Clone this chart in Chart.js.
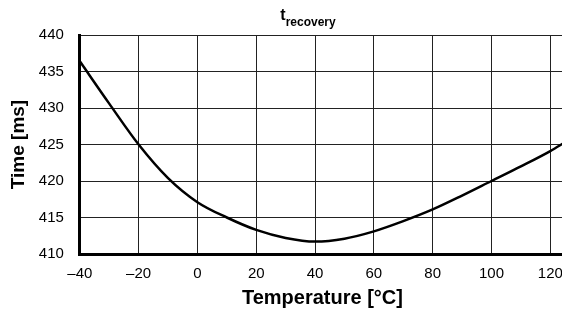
<!DOCTYPE html>
<html>
<head>
<meta charset="utf-8">
<script src="https://cdn.jsdelivr.net/npm/chart.js@4/dist/chart.umd.min.js"></script>
<style>
  html, body { margin: 0; padding: 0; background: #fff; overflow: hidden; }
  #chart { display: block; }
</style>
</head>
<body>
<canvas id="chart" width="566" height="314"></canvas>
<script>
// values
const temps = [-40, -30, -20, -10, 0, 10, 20, 30, 40, 50, 60, 70, 80, 90, 100, 110, 120, 125];
const times = [436.4, 430.6, 425.0, 420.4, 417.1, 415.0, 413.3, 412.2, 411.7, 412.1, 413.1, 414.5, 416.1, 418.0, 420.0, 422.0, 424.1, 425.3];
const xTicks = [-40, -20, 0, 20, 40, 60, 80, 100, 120];

const FONT = "'Liberation Sans', Arial, Helvetica, sans-serif";

// title with subscript: t_recovery
const subTitle = {
  id: "subTitle",
  afterDraw(chart) {
    const ctx = chart.ctx;
    ctx.save();
    ctx.fillStyle = "#000";
    ctx.textBaseline = "alphabetic";
    ctx.font = "bold 16px " + FONT;
    const wT = ctx.measureText("t").width;
    ctx.font = "bold 12px " + FONT;
    const wR = ctx.measureText("recovery").width;
    const x0 = 308 - (wT + wR) / 2;
    ctx.font = "bold 16px " + FONT;
    ctx.fillText("t", x0, 20);
    ctx.font = "bold 12px " + FONT;
    ctx.fillText("recovery", x0 + wT, 26);
    ctx.restore();
  }
};

new Chart(document.getElementById("chart").getContext("2d"), {
  type: "line",
  data: {
    datasets: [{
      data: temps.map((t, i) => ({ x: t, y: times[i] })),
      borderColor: "#000",
      borderWidth: 2.5,
      pointRadius: 0,
      cubicInterpolationMode: "monotone",
      fill: false
    }]
  },
  options: {
    responsive: false,
    animation: false,
    layout: { padding: { top: 35, right: 1, left: 7, bottom: 4 } },
    plugins: { legend: { display: false }, tooltip: { enabled: false } },
    scales: {
      x: {
        type: "linear",
        min: -40, max: 125,
        afterBuildTicks: s => { s.ticks = xTicks.map(v => ({ value: v })); },
        afterFit: s => { s.paddingRight = 0; },
        grid: { color: "#222", lineWidth: 1, drawTicks: false },
        border: { color: "#000", width: 3 },
        ticks: {
          autoSkip: false,
          maxRotation: 0,
          padding: 11,
          color: "#000",
          font: { family: FONT, size: 15 },
          callback: v => String(v).replace("-", "\u2013")
        },
        title: {
          display: true,
          text: "Temperature [°C]",
          color: "#000",
          font: { family: FONT, size: 20, weight: "bold" },
          padding: { top: -8, bottom: 0 }
        }
      },
      y: {
        min: 410, max: 440,
        grid: { color: "#222", lineWidth: 1, drawTicks: false },
        border: { color: "#000", width: 3 },
        ticks: {
          stepSize: 5,
          padding: 16,
          color: "#000",
          font: { family: FONT, size: 15 }
        },
        title: {
          display: true,
          text: "Time [ms]",
          color: "#000",
          font: { family: FONT, size: 19, weight: "bold" },
          padding: { top: 0, bottom: -7 }
        }
      }
    }
  },
  plugins: [subTitle]
});
</script>
</body>
</html>
